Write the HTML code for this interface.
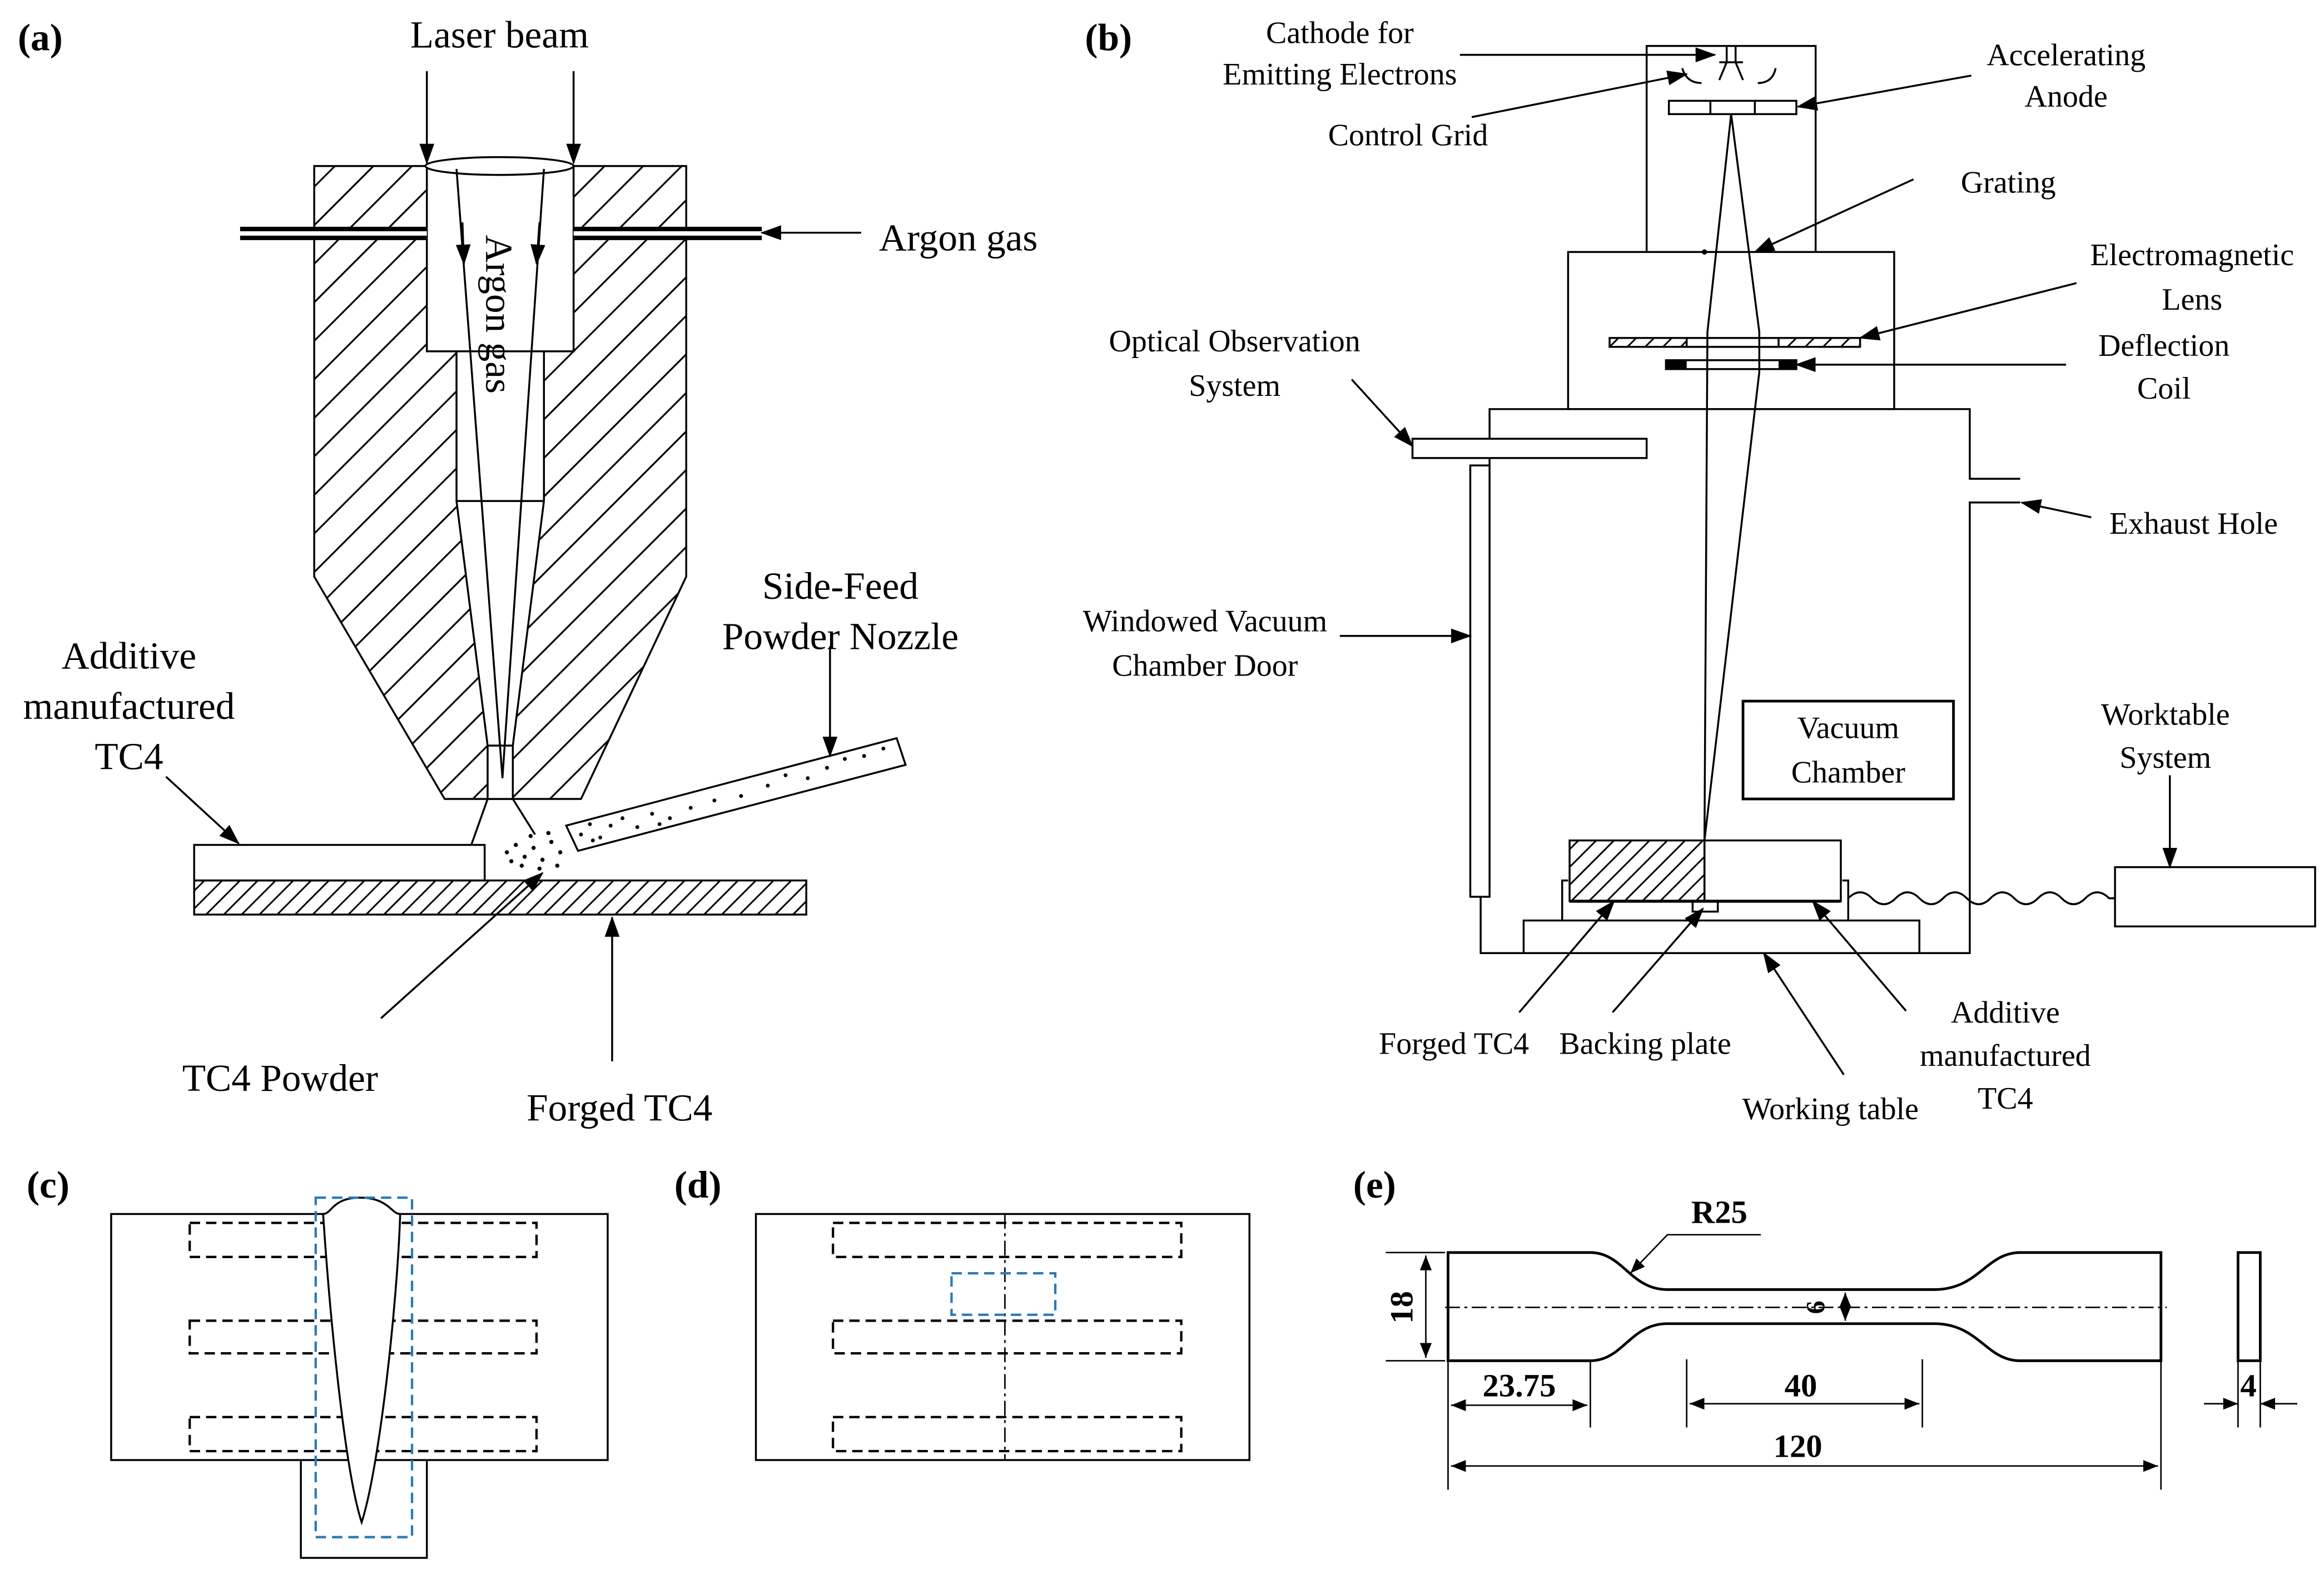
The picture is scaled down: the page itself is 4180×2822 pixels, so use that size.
<!DOCTYPE html>
<html><head><meta charset="utf-8"><style>
html,body{margin:0;padding:0;background:#fff}
svg{display:block}
text{font-family:"Liberation Serif",serif;fill:#000}
</style></head><body>
<svg width="4180" height="2822" viewBox="0 0 1568 1058.5" preserveAspectRatio="none" xmlns="http://www.w3.org/2000/svg">
<defs>
<marker id="ar" markerUnits="userSpaceOnUse" markerWidth="14" markerHeight="10" refX="13" refY="5" orient="auto"><path d="M0 0 L14 5 L0 10 Z" fill="#000"/></marker>
<marker id="ar2" markerUnits="userSpaceOnUse" markerWidth="10" markerHeight="8" refX="10" refY="4" orient="auto-start-reverse"><path d="M0 0 L10 4 L0 8 Z" fill="#000"/></marker>
<pattern id="h1" patternUnits="userSpaceOnUse" width="26" height="26"><path d="M0 26 L26 0 M-6 6 L6 -6 M20 32 L32 20" stroke="#000" stroke-width="1.2"/></pattern>
<pattern id="h2" patternUnits="userSpaceOnUse" width="12" height="12"><path d="M0 12 L12 0 M-3 3 L3 -3 M9 15 L15 9" stroke="#000" stroke-width="1.1"/></pattern>
</defs>
<g fill="none" stroke="#000" stroke-width="1.3">
<!-- (a) -->
<polygon points="212,112 463,112 463,389 392,539 300,539 212,389" fill="url(#h1)"/>
<polygon points="288,112 387,112 387,237 367,237 367,338 346,503 346,539 329,539 329,503 308,338 308,237 288,237" fill="#fff"/>
<line x1="308" y1="237" x2="367" y2="237"/><line x1="308" y1="338" x2="367" y2="338"/><line x1="329" y1="503" x2="346" y2="503"/>
<ellipse cx="337" cy="112" rx="50" ry="6" fill="#fff"/>
<line x1="308" y1="114" x2="339" y2="525"/><line x1="367" y1="114" x2="339" y2="525"/>
<line x1="312" y1="150" x2="313" y2="178" marker-end="url(#ar)"/>
<line x1="364" y1="150" x2="362" y2="178" marker-end="url(#ar)"/>
<line x1="288" y1="48" x2="288" y2="110" marker-end="url(#ar)"/>
<line x1="387" y1="48" x2="387" y2="110" marker-end="url(#ar)"/>
<rect x="162" y="153" width="126" height="9" fill="#fff" stroke="none"/>
<rect x="387" y="153" width="127" height="9" fill="#fff" stroke="none"/>
<path d="M162 154.5 H288 M162 160.5 H288 M387 154.5 H514 M387 160.5 H514" stroke-width="3"/>
<line x1="581" y1="157" x2="514" y2="157" marker-end="url(#ar)"/>
<line x1="329" y1="539" x2="318" y2="570"/><line x1="346" y1="539" x2="361" y2="563"/>
<rect x="131" y="570" width="196" height="24" fill="#fff"/>
<rect x="131" y="594" width="413" height="23" fill="url(#h2)"/>
<polygon points="382,557 605,498 611,516 390,574" fill="#fff"/>
<line x1="560" y1="436" x2="560" y2="510" marker-end="url(#ar)"/>
<line x1="112" y1="524" x2="161" y2="569" marker-end="url(#ar)"/>
<line x1="257" y1="687" x2="366" y2="589" marker-end="url(#ar)"/>
<line x1="413" y1="716" x2="413" y2="619" marker-end="url(#ar)"/>
</g>
<g fill="#000">
<circle cx="342" cy="575" r="1.4"/><circle cx="348" cy="570" r="1.4"/><circle cx="354" cy="578" r="1.4"/><circle cx="360" cy="572" r="1.4"/><circle cx="366" cy="580" r="1.4"/><circle cx="372" cy="568" r="1.4"/><circle cx="378" cy="575" r="1.4"/><circle cx="352" cy="584" r="1.4"/><circle cx="364" cy="586" r="1.4"/><circle cx="345" cy="581" r="1.4"/><circle cx="370" cy="562" r="1.4"/><circle cx="358" cy="564" r="1.4"/><circle cx="376" cy="584" r="1.4"/>
<circle cx="392" cy="563" r="1.3"/><circle cx="398" cy="556" r="1.3"/><circle cx="405" cy="565" r="1.3"/><circle cx="412" cy="557" r="1.3"/><circle cx="420" cy="552" r="1.3"/><circle cx="430" cy="558" r="1.3"/><circle cx="440" cy="549" r="1.3"/><circle cx="452" cy="552" r="1.3"/><circle cx="466" cy="545" r="1.3"/><circle cx="482" cy="540" r="1.3"/><circle cx="500" cy="537" r="1.3"/><circle cx="518" cy="530" r="1.3"/><circle cx="530" cy="523" r="1.3"/><circle cx="545" cy="525" r="1.3"/><circle cx="558" cy="518" r="1.3"/><circle cx="570" cy="512" r="1.3"/><circle cx="583" cy="510" r="1.3"/><circle cx="596" cy="505" r="1.3"/><circle cx="400" cy="567" r="1.3"/><circle cx="445" cy="556" r="1.3"/>
</g>
<text x="12" y="34" font-size="26" font-weight="bold">(a)</text>
<text x="337" y="32" font-size="26" text-anchor="middle">Laser beam</text>
<text x="593" y="169" font-size="26">Argon gas</text>
<text transform="translate(328,212) rotate(90)" font-size="26" text-anchor="middle">Argon gas</text>
<text x="567" y="404" font-size="26" text-anchor="middle">Side-Feed</text>
<text x="567" y="438" font-size="26" text-anchor="middle">Powder Nozzle</text>
<text x="87" y="451" font-size="26" text-anchor="middle">Additive</text>
<text x="87" y="485" font-size="26" text-anchor="middle">manufactured</text>
<text x="87" y="519" font-size="26" text-anchor="middle">TC4</text>
<text x="189" y="736" font-size="26" text-anchor="middle">TC4 Powder</text>
<text x="418" y="756" font-size="26" text-anchor="middle">Forged TC4</text>

<!-- (b) -->
<g fill="none" stroke="#000" stroke-width="1.3">
<rect x="1111" y="31" width="114" height="139"/>
<rect x="1058" y="170" width="220" height="106" fill="#fff"/>
<path d="M1005 314 V276 H1329 V323 H1363 M1363 339 H1329 V643 H999 V605"/>
<rect x="992" y="314" width="13" height="291" fill="#fff"/>
<rect x="953" y="296" width="158" height="13" fill="#fff"/>
<rect x="1126" y="68" width="86" height="9" fill="#fff"/>
<line x1="1154" y1="68" x2="1154" y2="77"/><line x1="1184" y1="68" x2="1184" y2="77"/>
<path d="M1165 31 V42 L1160 54 M1171 31 V42 L1176 54 M1160 42 H1176"/>
<path d="M1135 46 Q1138 56 1148 56 M1198 46 Q1196 56 1186 56"/>
<path d="M1168 77 L1152 224 L1150 567 M1168 77 L1187 224 L1187 251 L1150 567"/>
<rect x="1086" y="228" width="52" height="6" fill="url(#h2)"/>
<rect x="1200" y="228" width="55" height="6" fill="url(#h2)"/>
<line x1="1138" y1="228" x2="1200" y2="228"/><line x1="1138" y1="234" x2="1200" y2="234"/>
<rect x="1124" y="243" width="88" height="6"/>
<rect x="1176" y="473" width="142" height="66" stroke-width="1.8"/>
<rect x="1059" y="567" width="91" height="41" fill="url(#h2)"/>
<rect x="1150" y="567" width="92" height="41"/>
<path d="M1054 621 V594 H1058 M1247 621 V594 H1243"/>
<line x1="1059" y1="608" x2="1242" y2="608" stroke-width="2"/>
<rect x="1142" y="608" width="17" height="7"/>
<rect x="1028" y="621" width="267" height="22"/>
<rect x="1427" y="585" width="135" height="40"/>
<path d="M1247 606 q8 -8 16 0 t16 0 t16 0 t16 0 t16 0 t16 0 t16 0 t16 0 t16 0 t16 0 t16 0 H1427"/>
<line x1="985" y1="37" x2="1157" y2="37" marker-end="url(#ar)"/>
<line x1="993" y1="79" x2="1138" y2="50" marker-end="url(#ar)"/>
<line x1="1330" y1="51" x2="1213" y2="72" marker-end="url(#ar)"/>
<line x1="1291" y1="121" x2="1184" y2="170" marker-end="url(#ar)"/>
<line x1="1401" y1="191" x2="1255" y2="228" marker-end="url(#ar)"/>
<line x1="1394" y1="246" x2="1212" y2="246" marker-end="url(#ar)"/>
<line x1="912" y1="256" x2="953" y2="301" marker-end="url(#ar)"/>
<line x1="1411" y1="349" x2="1364" y2="339" marker-end="url(#ar)"/>
<line x1="904" y1="429" x2="992" y2="429" marker-end="url(#ar)"/>
<line x1="1464" y1="523" x2="1464" y2="585" marker-end="url(#ar)"/>
<line x1="1025" y1="683" x2="1089" y2="608" marker-end="url(#ar)"/>
<line x1="1088" y1="683" x2="1149" y2="613" marker-end="url(#ar)"/>
<line x1="1286" y1="682" x2="1223" y2="608" marker-end="url(#ar)"/>
<line x1="1244" y1="725" x2="1190" y2="643" marker-end="url(#ar)"/>
</g>
<rect x="1124" y="243" width="14" height="6" fill="#000"/><rect x="1200" y="243" width="12" height="6" fill="#000"/>
<circle cx="1150" cy="170" r="1.8" fill="#000"/>
<g font-size="21" text-anchor="middle">
<text x="732" y="34" font-size="26" font-weight="bold" text-anchor="start">(b)</text>
<text x="904" y="29">Cathode for</text>
<text x="904" y="57">Emitting Electrons</text>
<text x="950" y="98">Control Grid</text>
<text x="1394" y="44">Accelerating</text>
<text x="1394" y="72">Anode</text>
<text x="1355" y="130">Grating</text>
<text x="1479" y="179">Electromagnetic</text>
<text x="1479" y="209">Lens</text>
<text x="1460" y="240">Deflection</text>
<text x="1460" y="269">Coil</text>
<text x="833" y="237">Optical Observation</text>
<text x="833" y="267">System</text>
<text x="1480" y="360">Exhaust Hole</text>
<text x="813" y="426">Windowed Vacuum</text>
<text x="813" y="456">Chamber Door</text>
<text x="1247" y="498">Vacuum</text>
<text x="1247" y="528">Chamber</text>
<text x="1461" y="489">Worktable</text>
<text x="1461" y="518">System</text>
<text x="981" y="711">Forged TC4</text>
<text x="1110" y="711">Backing plate</text>
<text x="1353" y="690">Additive</text>
<text x="1353" y="719">manufactured</text>
<text x="1353" y="748">TC4</text>
<text x="1235" y="755">Working table</text>
</g>

<!-- (c) (d) (e) -->
<g font-size="26" font-weight="bold">
<text x="18" y="808">(c)</text><text x="455" y="808">(d)</text><text x="913" y="808">(e)</text>
</g>
<g fill="none" stroke="#000" stroke-width="1.3">
<rect x="75" y="819" width="335" height="166"/>
<path d="M203 985 V1051 H288 V985"/>
<g stroke-dasharray="7,4" stroke-width="1.6">
<rect x="128" y="825" width="234" height="23"/><rect x="128" y="891" width="234" height="22"/><rect x="128" y="956" width="234" height="23"/>
<rect x="562" y="825" width="235" height="23"/><rect x="562" y="891" width="235" height="22"/><rect x="562" y="956" width="235" height="23"/>
</g>
<path d="M218 819 C224 819 224 808 243 808 C262 808 264 819 270 819 C268 880 256 990 244 1027 C232 990 222 880 218 819 Z" fill="#fff"/>
<rect x="213" y="808" width="65" height="229" stroke="#2a7ab8" stroke-dasharray="7,4" stroke-width="1.6"/>
<rect x="510" y="819" width="333" height="166"/>
<line x1="678" y1="819" x2="678" y2="985" stroke-dasharray="10,3,2,3" stroke-width="1"/>
<rect x="642" y="859" width="70" height="28" stroke="#2a7ab8" stroke-dasharray="7,4" stroke-width="1.6"/>
<path d="M977 845 H1073 C1095 845 1100 870 1125 870 H1305 C1335 870 1340 845 1363 845 H1458 V918 H1363 C1340 918 1335 893 1305 893 H1125 C1100 893 1095 918 1073 918 H977 Z" stroke-width="1.8"/>
<line x1="975" y1="882" x2="1462" y2="882" stroke-dasharray="10,3,2,3" stroke-width="1"/>
<path d="M935 845 H975 M935 918 H975" stroke-width="1"/>
<line x1="962" y1="847" x2="962" y2="916" marker-start="url(#ar2)" marker-end="url(#ar2)" stroke-width="1"/>
<line x1="1245" y1="872" x2="1245" y2="891" marker-start="url(#ar2)" marker-end="url(#ar2)" stroke-width="1"/>
<path d="M1188 833 H1125 L1100 859" stroke-width="1" marker-end="url(#ar2)"/>
<path d="M1073 918 V963 M1138 917 V963 M1297 917 V963 M977 918 V1005 M1458 918 V1005 M1510 918 V963 M1525 918 V963" stroke-width="1"/>
<line x1="979" y1="948" x2="1071" y2="948" marker-start="url(#ar2)" marker-end="url(#ar2)" stroke-width="1"/>
<line x1="1140" y1="947" x2="1295" y2="947" marker-start="url(#ar2)" marker-end="url(#ar2)" stroke-width="1"/>
<line x1="979" y1="989" x2="1456" y2="989" marker-start="url(#ar2)" marker-end="url(#ar2)" stroke-width="1"/>
<rect x="1510" y="845" width="15" height="73" stroke-width="1.8"/>
<line x1="1487" y1="947" x2="1510" y2="947" marker-end="url(#ar2)" stroke-width="1"/>
<line x1="1550" y1="947" x2="1525" y2="947" marker-end="url(#ar2)" stroke-width="1"/>
</g>
<g font-size="22" font-weight="bold" text-anchor="middle">
<text x="1160" y="825">R25</text>
<text x="1025" y="942">23.75</text>
<text x="1215" y="942">40</text>
<text x="1213" y="983">120</text>
<text x="1517" y="942">4</text>
<text transform="translate(953,882) rotate(-90)">18</text>
<text transform="translate(1231,882) rotate(-90)" font-size="18">6</text>
</g>
</svg>
</body></html>
